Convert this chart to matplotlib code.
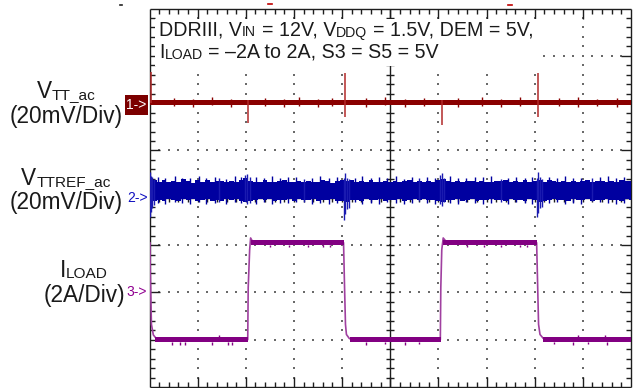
import numpy as np
import matplotlib
matplotlib.use("Agg")
import matplotlib.pyplot as plt
from matplotlib.patches import Rectangle
from matplotlib.lines import Line2D
from matplotlib.collections import LineCollection

plt.rcParams['font.family'] = ['Liberation Sans', 'DejaVu Sans']

# ---------------- data (time in scope divisions) ----------------
ch_offset = {"vtt": 2.0, "vttref": 0.0, "iload": -2.0}   # marker position, div
ch_scale = {"vtt": 20.0, "vttref": 20.0, "iload": 2.0}    # units per div

# VTT_ac (mV)
vtt_band = (-0.85, 1.3)
vtt_noise_t = [0.5, 0.9, 1.3, 1.7, 2.4, 2.8, 3.1, 3.5, 3.8, 4.5, 4.9, 5.3,
               5.7, 6.4, 6.9, 7.3, 7.7, 8.5, 8.9, 9.3, 9.7]
vtt_noise_hi = [2.2, 1.9, 2.4, 1.8, 2.3, 1.7, 2.5, 1.9, 2.2, 2.0, 2.6, 1.8,
                2.3, 2.1, 2.5, 1.9, 2.4, 2.0, 2.6, 1.8, 2.3]
vtt_noise_lo = [-1.2, -1.6, -1.0, -1.5, -1.3, -1.7, -1.1, -1.8, -1.2, -1.5, -1.0, -1.7,
                -1.3, -1.6, -1.2, -1.8, -1.1, -1.4, -1.6, -1.2, -1.5]
vtt_spike_t = [0.025, 2.045, 4.06, 6.07, 8.065]
vtt_spike_hi = [13.1, 1.5, 12.7, 1.5, 12.7]
vtt_spike_lo = [0.0, -8.5, -5.9, -9.3, -5.9]

# VTTREF_ac (mV): noisy band envelope sampled every 0.1 div
vttref_upper = [8.6, 7.4, 6.8, 7.6, 6.5, 7.1, 6.6, 7.8, 6.9, 6.4, 7.3,
                6.7, 7.5, 6.5, 6.9, 7.2, 6.6, 7.0, 6.8, 7.6, 8.2,
                7.2, 6.8, 6.6, 7.4, 6.7, 6.5, 6.9, 7.3, 6.6, 6.8,
                7.0, 6.5, 7.2, 6.8, 6.6, 7.7, 6.9, 6.4, 7.0, 7.3,
                6.9, 7.4, 6.6, 7.0, 6.8, 7.5, 6.7, 6.5, 7.1, 6.8,
                7.0, 6.6, 6.9, 7.3, 6.7, 7.1, 6.5, 7.2, 6.8, 7.4,
                7.9, 7.0, 6.7, 7.2, 6.6, 6.9, 7.1, 6.5, 7.0, 6.8,
                6.6, 7.2, 6.9, 7.4, 6.7, 7.0, 6.8, 7.3, 6.6, 7.1,
                7.6, 6.7, 7.3, 6.9, 6.5, 7.1, 6.8, 7.2, 6.6, 7.0,
                7.4, 6.8, 6.9, 7.2, 6.6, 7.0, 6.7, 7.3, 6.9, 7.1]
vttref_lower = [-2.5, -1.2, -0.8, -1.5, -0.6, -1.0, -1.4, -0.7, -1.1, -0.5, -1.3,
                -0.9, -0.6, -1.2, -0.8, -1.5, -0.7, -1.0, -0.6, -1.3, -1.8,
                -1.4, -0.9, -0.7, -1.1, -0.6, -1.2, -0.8, -1.0, -0.5, -1.3,
                -0.7, -1.1, -0.9, -0.6, -1.4, -0.8, -1.0, -0.7, -1.2, -1.5,
                -1.6, -1.0, -0.8, -1.3, -0.6, -0.9, -1.1, -0.7, -1.2, -0.8,
                -1.0, -0.6, -1.3, -0.9, -0.7, -1.1, -0.5, -1.0, -0.8, -1.2,
                -1.6, -1.1, -0.8, -0.6, -1.2, -0.9, -0.7, -1.3, -0.8, -1.0,
                -0.6, -1.1, -0.9, -1.4, -0.7, -1.0, -0.8, -1.2, -0.6, -1.0,
                -1.8, -1.2, -0.9, -0.7, -1.1, -0.8, -1.3, -0.6, -1.0, -0.9,
                -0.7, -1.2, -0.8, -1.0, -0.6, -1.1, -0.9, -1.3, -0.7, -1.0]
vttref_noise_t = [0.17, 0.33, 0.52, 0.68, 0.85, 1.02, 1.18, 1.36, 1.58, 1.77, 1.90,
                  2.22, 2.37, 2.55, 2.71, 2.88, 3.05, 3.38, 3.55, 3.72, 3.90,
                  4.27, 4.42, 4.60, 4.77, 4.93, 5.12, 5.28, 5.45, 5.77, 5.92,
                  6.25, 6.40, 6.58, 6.75, 6.92, 7.10, 7.45, 7.62, 7.80, 7.95,
                  8.30, 8.47, 8.63, 8.80, 8.97, 9.35, 9.52, 9.68, 9.85]
vttref_noise_hi = [8.9, 8.3, 9.1, 8.5, 8.2, 9.0, 8.4, 8.7, 8.1, 9.2, 8.6,
                   8.8, 8.2, 9.0, 8.4, 8.6, 8.9, 8.3, 9.1, 8.2, 8.7,
                   8.5, 9.0, 8.3, 8.8, 8.4, 9.2, 8.1, 8.6, 8.9, 8.4,
                   9.0, 8.5, 8.2, 8.8, 8.6, 9.1, 8.3, 8.7, 8.4, 8.9,
                   8.6, 8.2, 9.0, 8.5, 8.3, 8.8, 9.1, 8.4, 8.7]
vttref_noise_lo = [-2.2, -2.6, -1.9, -2.4, -2.8, -2.0, -2.5, -2.2, -2.7, -1.9, -2.3,
                   -2.5, -2.0, -2.7, -2.2, -2.4, -1.9, -2.6, -2.1, -2.8, -2.3,
                   -2.0, -2.5, -2.2, -2.7, -1.9, -2.4, -2.6, -2.1, -2.3, -2.8,
                   -2.2, -2.6, -2.0, -2.4, -2.7, -2.1, -2.5, -1.9, -2.3, -2.6,
                   -2.4, -2.0, -2.7, -2.2, -2.5, -1.9, -2.3, -2.6, -2.1]
vttref_spike_t = [0.01, 0.03, 0.06, 0.10, 1.45, 1.98, 2.03, 2.08, 3.2,
                  4.04, 4.06, 4.11, 4.15, 5.6, 6.04, 6.07, 6.11, 7.3,
                  8.05, 8.07, 8.11, 8.16, 9.2]
vttref_spike_hi = [10.7, 9.0, 8.8, 8.0, 8.3, 9.6, 10.2, 8.6, 8.0,
                   8.2, 10.4, 8.5, 7.8, 8.4, 9.8, 10.6, 8.4, 8.1,
                   8.5, 10.8, 8.8, 7.9, 8.2]
vttref_spike_lo = [-8.2, -6.0, -4.5, -3.0, -1.6, -1.5, -2.8, -2.2, -1.9,
                   -9.4, -7.0, -4.8, -4.2, -1.5, -2.5, -3.5, -2.0, -1.7,
                   -8.2, -6.5, -4.5, -3.8, -1.4]

# ILOAD (A)
iload_t = [0.0, 0.01, 0.015, 0.04, 0.08, 0.14, 0.22, 2.04, 2.05, 2.08, 2.10, 2.14, 2.25,
           4.03, 4.05, 4.07, 4.09, 4.15, 4.22, 6.04, 6.05, 6.07, 6.10, 6.16, 6.25,
           8.04, 8.06, 8.08, 8.11, 8.18, 8.25, 10.0]
iload_a = [2.1, 2.1, 1.0, -1.35, -1.8, -1.95, -2.0, -2.0, 0.2, 1.8, 2.3, 2.15, 2.1,
           2.1, 0.3, -1.35, -1.78, -1.95, -2.0, -2.0, 0.2, 1.8, 2.3, 2.15, 2.1,
           2.1, 0.4, -1.35, -1.78, -1.95, -2.0, -2.0]
iload_hi_band = (2.0, 2.21)
iload_lo_band = (-2.1, -1.89)
plateau_t0 = [0.12, 2.10, 4.16, 6.10, 8.17]
plateau_t1 = [2.045, 4.035, 6.045, 8.045, 10.0]
plateau_lvl = ["lo", "hi", "lo", "hi", "lo"]
iload_dip_t = [0.46, 0.63, 0.73, 1.29, 1.44, 1.63, 1.71, 2.5, 2.9, 3.3, 3.6, 3.75,
               4.5, 4.9, 5.3, 5.6, 6.6, 6.95, 7.3, 7.7, 7.85, 8.4, 8.8, 8.9, 9.1, 9.45, 9.5]
iload_dip_a = [-2.22, -2.22, -2.22, -2.22, -1.8, -2.22, -2.22, 1.9, 1.9, 1.92, 1.9, 1.9,
               -2.22, -2.2, -2.22, -2.2, 1.9, 1.92, 1.9, 1.9, 1.92, -2.2, -2.22, -1.82,
               -2.2, -1.82, -2.22]

# text content
note_line1 = [("DDRIII, V", 0), ("IN", 1), (" = 12V, V", 0), ("DDQ", 1), (" = 1.5V, DEM = 5V,", 0)]
note_line2 = [("I", 0), ("LOAD", 1), (" = –2A to 2A, S3 = S5 = 5V", 0)]
ch_names = [[("V", 0), ("TT_ac", 1)], [("V", 0), ("TTREF_ac", 1)], [("I", 0), ("LOAD", 1)]]
ch_scales_txt = ["(20mV/Div)", "(20mV/Div)", "(2A/Div)"]

# ---------------- figure ----------------
W, H = 633, 388
fig = plt.figure(figsize=(W / 100, H / 100), dpi=100)
L, R, T, B = 149.5, 631.0, 8.5, 387.0
ax = fig.add_axes([L / W, 1 - B / H, (R - L) / W, (B - T) / H])
ax.set_xlim(0, 10)
ax.set_ylim(-4, 4)
ax.axis('off')
pxx = 10.0 / (R - L)
pxy = 8.0 / (B - T)

def ych(ch, v):
    return ch_offset[ch] + np.asarray(v, dtype=float) / ch_scale[ch]

# dotted graticule
gx, gy = [], []
for xv in [1, 2, 3, 4, 6, 7, 8, 9]:
    for k in range(1, 40):
        gx.append(xv); gy.append(-4 + 0.2 * k)
for yv in [-3, -2, -1, 1, 2, 3]:
    for k in range(1, 50):
        gx.append(0.2 * k); gy.append(yv)
ax.scatter(gx, gy, s=1.6, marker='s', color='#6a6a6a', linewidths=0, zorder=1)

# border, centre lines and ticks
edge = '#1e1e1e'
segs = []
segs += [[(0, -4), (10, -4)], [(10, -4), (10, 4)], [(10, 4), (0, 4)], [(0, 4), (0, -4)]]
segs += [[(5, -4), (5, 4)], [(0, 0), (10, 0)]]
for i in range(1, 50):
    x = 0.2 * i
    ln = (10 if i % 5 == 0 else 5) * pxy
    segs.append([(x, 4), (x, 4 - ln)])
    segs.append([(x, -4), (x, -4 + ln)])
    segs.append([(x, -4 * pxy), (x, 4 * pxy)])
for j in range(1, 40):
    y = -4 + 0.2 * j
    ln = (10 if j % 5 == 0 else 5) * pxx
    segs.append([(0, y), (ln, y)])
    segs.append([(10, y), (10 - ln, y)])
    segs.append([(5 - 4 * pxx, y), (5 + 4 * pxx, y)])
ax.add_collection(LineCollection(segs, colors=edge, linewidths=1.0, zorder=2, clip_on=False))

# white box behind annotation
bx0, bx1 = (155 - L) * pxx, (540 - L) * pxx
by1, by0 = 4 - (19 - T) * pxy, 4 - (66 - T) * pxy
ax.add_patch(Rectangle((bx0, by0), bx1 - bx0, by1 - by0, facecolor='white',
                       edgecolor='none', zorder=3))

red, blue, purple = '#8a0000', '#0000a0', '#820082'

# VTT trace
ax.fill_between([0, 10], ych("vtt", vtt_band[0]), ych("vtt", vtt_band[1]),
                color=red, linewidth=0, zorder=5)
ax.vlines(vtt_noise_t, ych("vtt", vtt_noise_lo), ych("vtt", vtt_noise_hi),
          color=red, linewidth=1.0, zorder=5)
ax.vlines(vtt_spike_t, ych("vtt", vtt_spike_lo), ych("vtt", vtt_spike_hi),
          color='#b22a2a', linewidth=1.1, zorder=5)

# VTTREF trace
tref = np.arange(len(vttref_upper)) * 0.1
ax.fill_between(tref, ych("vttref", vttref_lower), ych("vttref", vttref_upper),
                step='mid', color=blue, linewidth=0, zorder=5)
ax.vlines(vttref_noise_t, ych("vttref", vttref_noise_lo), ych("vttref", vttref_noise_hi),
          color=blue, linewidth=1.0, zorder=5)
ax.vlines(vttref_spike_t, ych("vttref", vttref_spike_lo), ych("vttref", vttref_spike_hi),
          color='#1a1ab0', linewidth=1.0, zorder=5)

# ILOAD trace
ax.plot(iload_t, ych("iload", iload_a), color='#a040a0', linewidth=1.2, zorder=5)
for t0, t1, lv in zip(plateau_t0, plateau_t1, plateau_lvl):
    band = iload_hi_band if lv == "hi" else iload_lo_band
    ax.fill_between([t0, t1], ych("iload", band[0]), ych("iload", band[1]),
                    color=purple, linewidth=0, zorder=5)
for t, a in zip(iload_dip_t, iload_dip_a):
    base = iload_hi_band if a > 0 else iload_lo_band
    ref = base[0] if a < base[0] else base[1]
    ax.vlines(t, ych("iload", min(a, ref)), ych("iload", max(a, ref)),
              color=purple, linewidth=1.0, zorder=5)

# ---------------- text ----------------
renderer = fig.canvas.get_renderer()

def _w(s, fs):
    t = fig.text(0, 0, s, fontsize=fs)
    w = t.get_window_extent(renderer).width
    t.remove()
    return w

def adv(s, fs):
    return _w("I" + s + "I", fs) - _w("II", fs)

def ftext(x, y, s, **kw):
    return fig.text(x / W, 1 - y / H, s, **kw)

def rich(x, y, pieces, fs, sub_ratio=0.68, drop=1.5, ha='left', color='#1a1a1a', zorder=6):
    sizes = [fs * sub_ratio if sub else fs for _, sub in pieces]
    widths = [adv(s, f) for (s, _), f in zip(pieces, sizes)]
    total = sum(widths)
    cx = x - total / 2 if ha == 'center' else x
    for (s, sub), f, w in zip(pieces, sizes, widths):
        lead = len(s) - len(s.lstrip(' '))
        off = adv(' ' * lead, f) if lead else 0.0
        ftext(cx + off, y + (drop if sub else 0), s.strip(' '), fontsize=f, color=color,
              ha='left', va='baseline', zorder=zorder)
        cx += w

rich(159, 35, note_line1, 14.1, sub_ratio=0.72)
rich(159, 57.5, note_line2, 14.1, sub_ratio=0.72)

name_pos = [(66, 98), (66, 185), (84, 277)]
scale_pos = [(66.5, 123), (66.5, 209), (84, 302)]
for pieces, (x, y) in zip(ch_names, name_pos):
    rich(x, y, pieces, 16.3, sub_ratio=0.68, drop=1.0, ha='center')
for s, (x, y) in zip(ch_scales_txt, scale_pos):
    ftext(x, y, s, fontsize=16.3, color='#1a1a1a', va='baseline', ha='center')

# channel markers
fig.add_artist(Rectangle((125 / W, 1 - 115 / H), 23 / W, 20 / H, facecolor='#7c0000',
                         edgecolor='none', transform=fig.transFigure))
ftext(136.5, 105, '1->', fontsize=10, color='white', ha='center', va='center')
ftext(137, 198, '2->', fontsize=10, color='#1010c0', ha='center', va='center')
ftext(137, 292, '3->', fontsize=10, color='#900090', ha='center', va='center')

# trigger / position marks above graticule
for x0, x1, yy, c in [(120, 122, 5, '#222222'), (268, 272, 4, '#c00000'), (508, 512, 5, '#c00000')]:
    fig.add_artist(Line2D([x0 / W, x1 / W], [1 - yy / H, 1 - yy / H], color=c,
                          linewidth=1.2, transform=fig.transFigure))

fig.savefig('out.png', dpi=100)
